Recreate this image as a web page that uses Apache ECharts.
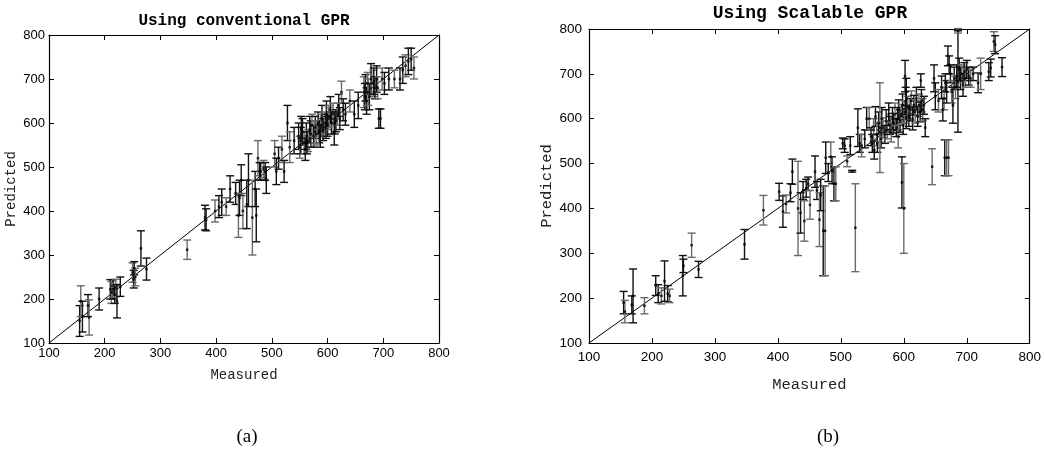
<!DOCTYPE html>
<html>
<head>
<meta charset="utf-8">
<script src="https://cdn.jsdelivr.net/npm/echarts@6/dist/echarts.min.js"></script>
<style>html,body{margin:0;padding:0;background:#fff}#c{width:1044px;height:450px}</style>
</head>
<body>
<div id="c"></div>
<script>
// ---------- data ----------
const axisTicks = [100, 200, 300, 400, 500, 600, 700, 800];
const diagLine = [100, 800];

// (a) conventional GPR
const measuredA = [155,157,160,170,172,190,210,212,215,218,220,222,228,250,252,253,255,265,275,348,
  380,382,398,405,410,418,425,435,440,442,445,448,455,458,465,470,472,475,478,480,485,488,490,
  505,508,512,518,522,528,532,540,548,550,552,555,558,560,562,565,568,570,572,575,578,580,583,585,
  588,590,592,595,598,600,602,605,607,610,612,615,618,620,622,625,628,632,640,648,655,665,668,670,
  672,675,678,682,685,688,690,692,695,698,702,710,720,730,735,740,745,750,755,
  553,563,577,587,597,603,613,667,673,683];
const predictedA = [150,195,160,185,158,200,222,215,222,210,225,195,228,260,245,270,250,315,268,312,
  385,380,400,410,420,410,450,440,390,430,470,400,415,470,385,450,390,520,490,490,495,490,470,
  530,490,520,540,490,600,545,560,570,545,560,580,555,540,570,560,585,575,595,570,590,575,600,580,
  595,610,585,600,620,595,610,630,600,620,580,605,620,640,610,670,630,620,650,620,640,670,680,650,
  690,660,700,690,680,700,680,610,610,700,690,700,700,700,720,730,740,745,725,
  590,555,580,570,590,615,600,660,670,695];
const errorA = [35,35,35,25,40,25,22,25,22,20,20,38,22,22,20,15,20,40,25,22,
  28,25,25,25,30,20,30,25,50,40,35,40,55,60,85,40,60,40,20,20,20,20,30,
  30,30,25,30,25,40,35,30,30,25,30,30,25,25,30,25,30,30,25,25,25,25,25,25,
  25,30,25,25,30,25,25,30,25,25,30,25,25,25,25,25,25,25,25,30,30,35,30,30,
  25,30,35,30,25,30,25,22,22,25,25,25,20,25,30,25,30,25,25,
  25,25,25,25,25,25,25,30,30,30];

// (b) scalable GPR
const measuredB = [155,157,168,170,188,206,210,215,220,225,228,249,250,263,274,347,377,
  402,408,413,420,423,432,436,440,442,445,448,451,459,462,466,468,472,475,476,480,484,486,489,492,
  503,506,510,515,518,523,527,530,533,538,541,
  545,548,550,552,553,555,557,558,560,562,564,565,567,570,572,574,576,578,580,582,584,586,588,590,
  591,592,594,596,598,599,601,603,604,606,608,610,612,614,616,618,620,622,624,626,628,630,632,
  597,600,602,604,562,634,627,645,648,650,655,660,662,664,665,666,668,668,670,671,672,674,676,678,
  680,682,684,686,686,688,690,692,694,696,698,700,703,706,710,718,722,735,738,743,745,756];
const predictedB = [190,170,185,205,183,228,210,205,238,210,205,250,272,318,264,320,396,
  437,393,410,435,482,400,390,440,372,445,455,408,482,440,375,430,350,350,513,480,515,485,455,455,
  545,540,505,540,483,357,580,545,540,555,600,
  600,560,545,575,530,605,565,545,590,570,555,600,580,565,595,575,610,585,570,600,590,610,580,600,
  560,620,595,610,630,585,615,640,600,625,605,620,640,600,630,615,645,605,630,615,640,620,630,
  458,400,695,660,580,580,685,493,690,650,640,670,620,645,513,680,513,660,740,513,720,700,660,630,
  690,670,695,683,796,710,690,700,675,705,690,710,695,690,700,680,700,705,713,772,765,715];
const errorB = [25,25,20,60,18,22,20,18,45,18,15,45,15,27,18,33,33,
  19,35,20,20,28,105,45,20,45,20,15,32,35,20,60,35,100,100,35,20,33,30,38,38,
  12,15,12,20,2,98,42,20,25,20,25,
  25,20,20,25,20,22,25,20,25,22,20,25,22,20,25,20,25,20,22,25,22,25,20,25,
  25,22,25,22,25,20,25,30,22,25,22,25,22,25,22,25,25,22,25,22,25,25,20,
  57,100,35,30,100,20,15,40,30,30,25,25,25,25,40,20,40,25,22,40,20,20,25,40,
  25,25,25,113,5,25,25,20,25,20,20,20,20,20,15,22,35,20,20,22,20,21];

// ---------- chart ----------
const chart = echarts.init(document.getElementById('c'));

function rows(xs, ys, es) { return xs.map((x, i) => [x, ys[i], es[i]]); }

function errRender(capHalf) {
  return function (params, api) {
    const x = api.value(0), y = api.value(1), e = api.value(2);
    const t = api.coord([x, y + e]);
    const b = api.coord([x, y - e]);
    const col = params.dataIndex % 3 === 1 ? '#6a6a6a' : '#111';
    const st = { stroke: col, lineWidth: 1.4 };
    return {
      type: 'group',
      children: [
        { type: 'line', shape: { x1: t[0], y1: t[1], x2: b[0], y2: b[1] }, style: st },
        { type: 'line', shape: { x1: t[0] - capHalf, y1: t[1], x2: t[0] + capHalf, y2: t[1] }, style: st },
        { type: 'line', shape: { x1: b[0] - capHalf, y1: b[1], x2: b[0] + capHalf, y2: b[1] }, style: st }
      ]
    };
  };
}

function axisPair(gi, fs, margin, nameGapX, nameGapY, nameFs) {
  const base = {
    type: 'value', gridIndex: gi, min: axisTicks[0], max: axisTicks[axisTicks.length - 1], interval: 100,
    axisLine: { onZero: false, lineStyle: { color: '#000', width: 1.2 } },
    axisTick: { inside: true, length: 5, lineStyle: { color: '#000', width: 1 } },
    splitLine: { show: false }
  };
  const lbl = { color: '#000', fontFamily: 'Liberation Sans', fontSize: fs, margin: margin };
  const nameStyle = { color: '#222', fontFamily: 'Liberation Mono', fontSize: nameFs };
  return {
    x: [
      Object.assign({}, base, { position: 'bottom', axisLabel: lbl, name: 'Measured', nameLocation: 'middle', nameGap: nameGapX, nameTextStyle: nameStyle }),
      Object.assign({}, base, { position: 'top', axisLabel: { show: false } })
    ],
    y: [
      Object.assign({}, base, { position: 'left', axisLabel: lbl, name: 'Predicted', nameLocation: 'middle', nameGap: nameGapY, nameTextStyle: nameStyle }),
      Object.assign({}, base, { position: 'right', axisLabel: { show: false } })
    ]
  };
}

const A = axisPair(0, 13, 4, 25, 31, 14);
const B = axisPair(1, 13.5, 7, 34, 34, 15.5);

function seriesFor(xi, yi, xs, ys, es, capHalf) {
  return [
    { type: 'line', xAxisIndex: xi, yAxisIndex: yi, data: [[diagLine[0], diagLine[0]], [diagLine[1], diagLine[1]]],
      symbol: 'none', lineStyle: { color: '#000', width: 1 }, silent: true, z: 1 },
    { type: 'custom', xAxisIndex: xi, yAxisIndex: yi, data: rows(xs, ys, es), renderItem: errRender(capHalf), z: 2 },
    { type: 'scatter', xAxisIndex: xi, yAxisIndex: yi, data: rows(xs, ys, es), symbol: 'rect', symbolSize: 2.5,
      itemStyle: { color: '#000' }, z: 3 }
  ];
}

chart.setOption({
  animation: false,
  grid: [
    { left: 49, right: 605, top: 35, bottom: 107 },
    { left: 589, right: 13, top: 29, bottom: 107 }
  ],
  xAxis: [A.x[0], A.x[1], B.x[0], B.x[1]],
  yAxis: [A.y[0], A.y[1], B.y[0], B.y[1]],
  series: [].concat(
    seriesFor(0, 0, measuredA, predictedA, errorA, 4),
    seriesFor(2, 2, measuredB, predictedB, errorB, 4)
  ),
  graphic: [
    { type: 'text', style: { text: 'Using conventional GPR', x: 244, y: 21, textAlign: 'center', textVerticalAlign: 'middle',
      font: 'bold 16px "Liberation Mono"', fill: '#000' } },
    { type: 'text', style: { text: 'Using Scalable GPR', x: 810, y: 13, textAlign: 'center', textVerticalAlign: 'middle',
      font: 'bold 18px "Liberation Mono"', fill: '#000' } },
    { type: 'text', style: { text: '(a)', x: 247, y: 437, textAlign: 'center', textVerticalAlign: 'middle',
      font: '19px "Liberation Serif"', fill: '#000' } },
    { type: 'text', style: { text: '(b)', x: 828, y: 437, textAlign: 'center', textVerticalAlign: 'middle',
      font: '19px "Liberation Serif"', fill: '#000' } }
  ]
});
</script>
</body>
</html>
